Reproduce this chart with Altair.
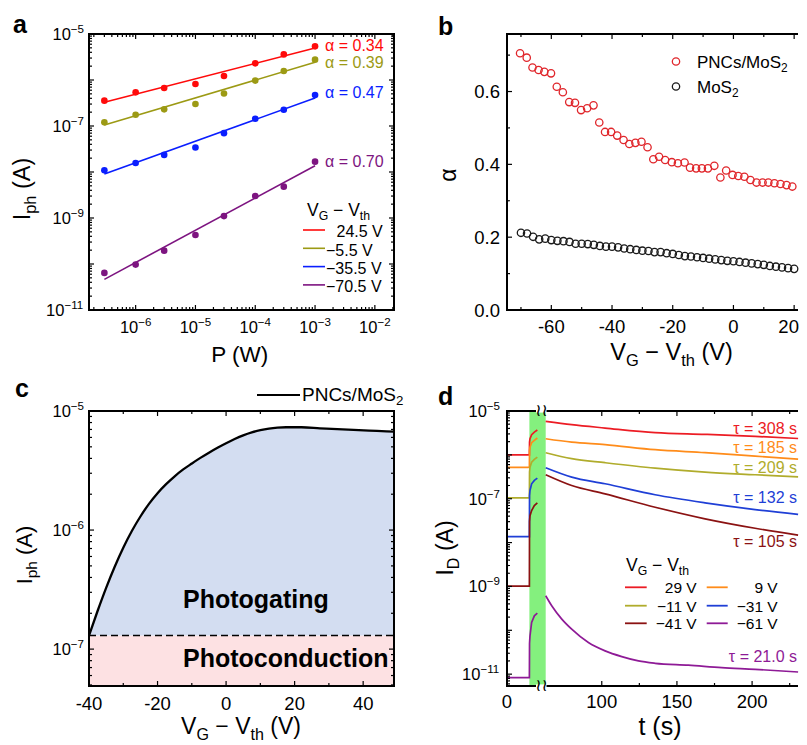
import altair as alt
import pandas as pd

FONT = "Liberation Sans"

# ---------------- (a) Iph vs P ----------------
A_P = [3e-7, 1e-6, 3e-6, 1e-5, 3e-5, 1e-4, 3e-4, 1e-3]
A_I_P245 = [3.56e-7, 5.4e-7, 6.7e-7, 8.2e-7, 1.22e-6, 2.3e-6, 3.6e-6, 5.4e-6]
A_I_M55 = [1.2e-7, 1.76e-7, 2.3e-7, 3.0e-7, 5.1e-7, 9.7e-7, 1.57e-6, 2.77e-6]
A_I_M355 = [1.09e-8, 1.57e-8, 2.35e-8, 3.4e-8, 7.0e-8, 1.44e-7, 2.26e-7, 4.7e-7]
A_I_M705 = [6.4e-11, 9.7e-11, 1.95e-10, 4.27e-10, 1.1e-9, 3.0e-9, 4.8e-9, 1.68e-8]
A_FIT_P = [3e-7, 1e-3]
A_FIT_P245 = [3.27e-7, 4.96e-6]
A_FIT_M55 = [1.05e-7, 2.42e-6]
A_FIT_M355 = [9.06e-9, 4.06e-7]
A_FIT_M705 = [4.64e-11, 1.37e-8]
A_LEGEND = ["24.5 V", "−5.5 V", "−35.5 V", "−70.5 V"]
A_ALPHA = ["α = 0.34", "α = 0.39", "α = 0.47", "α = 0.70"]
A_COLORS = ["#ff0a0a", "#9c9a14", "#0a1eff", "#7d1480"]
A_XTICKS = [1e-6, 1e-5, 1e-4, 1e-3, 1e-2]
A_XEXP = ["−6", "−5", "−4", "−3", "−2"]
A_YTICKS = [1e-11, 1e-10, 1e-9, 1e-8, 1e-7, 1e-6, 1e-5]
A_YLABV = [1e-11, 1e-9, 1e-7, 1e-5]
A_YEXP = ["−11", "−9", "−7", "−5"]

# ---------------- (b) alpha vs VG-Vth ----------------
B_V_PNC = [-70.3, -68.1, -66.2, -64.2, -62.3, -60.1, -58.2, -56.2, -54.1, -52.2, -50.2, -48.2,
           -46.1, -44.2, -42.3, -40.3, -38.3, -36.2, -34.3, -32.3, -30.3, -28.3, -26.4, -24.5,
           -22.5, -20.3, -18.3, -16.1, -14.3, -12.3, -10.4, -8.4, -6.3, -4.3, -2.4, -0.3,
           1.6, 3.6, 5.6, 7.6, 9.6, 11.5, 13.5, 15.5, 17.5, 19.4, 21.4, 23.4]
B_A_PNC = [0.705, 0.693, 0.666, 0.659, 0.654, 0.650, 0.613, 0.598, 0.571, 0.569, 0.549, 0.554,
           0.562, 0.515, 0.489, 0.489, 0.479, 0.467, 0.456, 0.459, 0.462, 0.447, 0.414, 0.421,
           0.412, 0.406, 0.403, 0.405, 0.391, 0.389, 0.389, 0.389, 0.396, 0.364, 0.383, 0.371,
           0.368, 0.366, 0.357, 0.350, 0.350, 0.350, 0.348, 0.346, 0.343, 0.339, 0.341, 0.346]
B_V_MOS = [-70, -68, -66, -64, -62, -60, -58, -56, -54, -52, -50, -48, -46, -44, -42, -40,
           -38, -36, -34, -32, -30, -28, -26, -24, -22, -20, -18, -16, -14, -12, -10, -8,
           -6, -4, -2, 0, 2, 4, 6, 8, 10, 12, 14, 16, 18, 20, 22, 24]
B_A_MOS = [0.212, 0.210, 0.201, 0.194, 0.196, 0.192, 0.190, 0.189, 0.187, 0.182, 0.182, 0.181,
           0.179, 0.176, 0.174, 0.174, 0.172, 0.169, 0.167, 0.165, 0.163, 0.162, 0.159, 0.159,
           0.156, 0.154, 0.151, 0.148, 0.147, 0.145, 0.143, 0.141, 0.139, 0.137, 0.135, 0.134,
           0.132, 0.130, 0.128, 0.126, 0.124, 0.121, 0.119, 0.117, 0.115, 0.113, 0.110, 0.108]
B_XMAJ = [-60, -40, -20, 0, 20]
B_XLAB = ["-60", "-40", "-20", "0", "20"]
B_XMIN = [-70, -50, -30, -10, 10]
B_YMAJ = [0.0, 0.2, 0.4, 0.6]
B_YLAB = ["0.0", "0.2", "0.4", "0.6"]
B_YMIN = [0.1, 0.3, 0.5, 0.7]

# ---------------- (c) Iph vs VG-Vth ----------------
C_V = [-40, -37.5, -35, -32.5, -30, -27.5, -25, -22.5, -20, -17.5, -15, -12.5, -10, -7.5,
       -5, -2.5, 0, 2.5, 5, 7.5, 10, 12.5, 15, 17.5, 22.0, 27.4, 37.2, 44.0, 49.0]
C_I = [1.3e-7, 2.09e-7, 3.27e-7, 4.92e-7, 7.1e-7, 9.82e-7, 1.3e-6, 1.66e-6, 2.04e-6, 2.43e-6,
       2.83e-6, 3.23e-6, 3.62e-6, 4.04e-6, 4.47e-6, 4.91e-6, 5.36e-6, 5.81e-6, 6.24e-6, 6.61e-6,
       6.9e-6, 7.11e-6, 7.24e-6, 7.3e-6, 7.3e-6, 7.16e-6, 6.93e-6, 6.8e-6, 6.71e-6]
C_THRESH = 1.3e-7
C_XMAJ = [-40, -20, 0, 20, 40]
C_XLAB = ["-40", "-20", "0", "20", "40"]
C_XMIN = [-30, -10, 10, 30]
C_YMAJ = [1e-7, 1e-6, 1e-5]
C_YEXP = ["−7", "−6", "−5"]

# ---------------- (d) transient ID vs t ----------------
D_T1 = [0, 14.9, 15.0, 15.3, 16.4, 18.2, 20.2]
D_R1 = [1.0e-6, 1.0e-6, 1.95e-6, 2.33e-6, 2.88e-6, 3.31e-6, 3.68e-6]
D_O1 = [5.2e-7, 5.2e-7, 1.26e-6, 1.5e-6, 1.89e-6, 2.14e-6, 2.42e-6]
D_Y1 = [1.05e-7, 1.05e-7, 4.04e-7, 5.25e-7, 6.82e-7, 7.87e-7, 8.91e-7]
D_B1 = [1.37e-8, 1.37e-8, 1.18e-7, 1.54e-7, 2.19e-7, 2.61e-7, 2.94e-7]
D_K1 = [1.02e-9, 1.02e-9, 3.0e-8, 4.1e-8, 5.37e-8, 7.0e-8, 8.05e-8]
D_P1 = [8.3e-12, 8.3e-12, 5.0e-11, 7.46e-11, 1.51e-10, 2.14e-10, 2.45e-10]
D_T2 = [62.7, 80.0, 102.2, 135.5, 168.7, 202.0, 230.6]
D_R2 = [5.82e-6, 4.88e-6, 4.09e-6, 3.21e-6, 2.93e-6, 2.64e-6, 2.36e-6]
D_O2 = [2.33e-6, 1.95e-6, 1.71e-6, 1.31e-6, 1.12e-6, 9.36e-7, 8.0e-7]
D_Y2 = [1.12e-6, 8.17e-7, 6.62e-7, 4.98e-7, 4.04e-7, 3.52e-7, 3.15e-7]
D_B2 = [5.08e-7, 3.10e-7, 2.19e-7, 1.23e-7, 8.05e-8, 5.66e-8, 4.4e-8]
D_K2 = [3.52e-7, 2.0e-7, 1.29e-7, 6.4e-8, 3.48e-8, 2.12e-8, 1.48e-8]
D_TP2 = [62.7, 66.7, 73.4, 80.0, 91.1, 102.2, 113.3, 124.4, 135.5, 157.6, 179.8, 202.0, 230.6]
D_P2 = [6.12e-10, 3.62e-10, 1.8e-10, 1.06e-10, 5.25e-11, 3.39e-11, 2.51e-11, 2.0e-11,
        1.77e-11, 1.6e-11, 1.41e-11, 1.29e-11, 1.12e-11]
D_LIGHT = [14.9, 62.7]
D_LEGEND = ["29 V", "9 V", "−11 V", "−31 V", "−41 V", "−61 V"]
D_COLORS = ["#ec1c24", "#ff8c1a", "#b0ac2c", "#1f3fd6", "#8b1212", "#8e1a96"]
D_TAU = ["τ = 308 s", "τ = 185 s", "τ = 209 s", "τ = 132 s", "τ = 105 s", "τ = 21.0 s"]
D_XMAJ = [0, 100, 150, 200]
D_XLAB = ["0", "100", "150", "200"]
D_XMIN = [125, 175, 225]
D_YTICKS = [1e-11, 1e-10, 1e-9, 1e-8, 1e-7, 1e-6, 1e-5]
D_YLABV = [1e-11, 1e-9, 1e-7, 1e-5]
D_YEXP = ["−11", "−9", "−7", "−5"]


def minor_log(lo_exp, hi_exp, lo, hi):
    out = []
    for e in range(lo_exp, hi_exp + 1):
        for k in range(2, 10):
            v = k * 10.0 ** e
            if lo < v < hi:
                out.append(v)
    return out


# ---------------- text helpers ----------------
WREG = {' ': 278, '(': 333, ')': 333, '-': 333, '−': 584, '.': 278, '/': 278, '=': 584,
        'A': 667, 'C': 722, 'D': 722, 'G': 778, 'I': 278, 'M': 833, 'N': 722, 'P': 667,
        'S': 667, 'V': 667, 'W': 944, 'a': 556, 'c': 500, 'h': 556, 'o': 556, 'p': 556,
        's': 500, 't': 278, 'α': 578, 'τ': 430}
for _d in "0123456789":
    WREG[_d] = 556


def tw(s, size):
    return sum(WREG.get(ch, 556) for ch in s) * size / 1000.0


def txt(text, x, y, size, color="black", align="left", angle=0, bold=False, font=FONT,
        dx=0.0, dy=0.0, baseline="alphabetic"):
    props = dict(text=text, font=font, fontSize=size, color=color, align=align,
                 baseline=baseline, angle=angle, fontWeight="bold" if bold else "normal")
    enc = {}
    row = 0.0
    if isinstance(x, tuple):
        row = x[0]
        enc["x"] = alt.X("v:Q", scale=x[1], axis=None)
        props["dx"] = dx
    else:
        enc["x"] = alt.value(x + dx)
    if isinstance(y, tuple):
        row = y[0]
        enc["y"] = alt.Y("v:Q", scale=y[1], axis=None)
        props["dy"] = dy
    else:
        enc["y"] = alt.value(y + dy)
    return alt.Chart(pd.DataFrame({"v": [row]})).mark_text(**props).encode(**enc)


def rich(segs, x, y, size, align="left", angle=0, color="black", ratio=0.7, dy0=0.0):
    sizes = [size if m == "n" else size * ratio for _, m in segs]
    widths = [tw(t, s) for (t, _), s in zip(segs, sizes)]
    total = sum(widths)
    off = {"left": 0.0, "center": -total / 2, "right": -total}[align]
    out = []
    for (t, m), s, w in zip(segs, sizes, widths):
        lead = len(t) - len(t.lstrip(" "))
        o = off + tw(" " * lead, s)
        shift = 0.0 if m == "n" else (0.24 * size if m == "sub" else -0.42 * size)
        if angle == 0:
            ddx, ddy = o, shift + dy0
        else:
            ddx, ddy = shift + dy0, -o
        out.append(txt(t.strip(" "), x, y, s, color=color, angle=angle, dx=ddx, dy=ddy))
        off += w
    return out


ONE = pd.DataFrame({"k": [0]})


def hline(x, x2, y, color="black", sw=2.0, cap="butt", dash=None):
    kw = dict(color=color, strokeWidth=sw, strokeCap=cap)
    if dash:
        kw["strokeDash"] = dash
    return alt.Chart(ONE).mark_rule(**kw).encode(x=alt.value(x), x2=alt.value(x2), y=alt.value(y))


def vline(x, y, y2, color="black", sw=2.0, cap="square"):
    return alt.Chart(ONE).mark_rule(color=color, strokeWidth=sw, strokeCap=cap).encode(
        x=alt.value(x), y=alt.value(y), y2=alt.value(y2))


def frame(W, H, right=True):
    if right:
        return [hline(0, W, 0), hline(0, W, H), vline(0, 0, H), vline(W, 0, H)]
    # open right side: stop the horizontal lines 1 px short so nothing pokes past the page
    return [hline(0, W - 1, 0), hline(0, W - 1, H), vline(0, 0, H)]


def xticks(vals, sc, H, L, sw=1.2):
    df = pd.DataFrame({"v": vals})
    xe = alt.X("v:Q", scale=sc, axis=None)
    return [alt.Chart(df).mark_rule(color="black", strokeWidth=sw).encode(x=xe, y=alt.value(H), y2=alt.value(H - L)),
            alt.Chart(df).mark_rule(color="black", strokeWidth=sw).encode(x=xe, y=alt.value(0), y2=alt.value(L))]


def yticks(vals, sc, W, L, sw=1.2, right=True, rlen=None):
    df = pd.DataFrame({"v": vals})
    ye = alt.Y("v:Q", scale=sc, axis=None)
    out = [alt.Chart(df).mark_rule(color="black", strokeWidth=sw).encode(y=ye, x=alt.value(0), x2=alt.value(L))]
    if right:
        rl = L if rlen is None else rlen
        out.append(alt.Chart(df).mark_rule(color="black", strokeWidth=sw).encode(y=ye, x=alt.value(W), x2=alt.value(W - rl)))
    return out


# =============== panel (a) ===============
AW, AH = 305, 276
ax = alt.Scale(type="log", domain=[1.66e-7, 2.09e-2], nice=False)
ay = alt.Scale(type="log", domain=[1e-11, 1e-5], nice=False)
la = []
# white 1px anchor that fixes the top-left corner of the whole figure
la.append(alt.Chart(ONE).mark_rect(color="white", opacity=1).encode(
    x=alt.value(-81), x2=alt.value(-80), y=alt.value(-26), y2=alt.value(-25)))
for vals, fit, col in zip([A_I_P245, A_I_M55, A_I_M355, A_I_M705],
                          [A_FIT_P245, A_FIT_M55, A_FIT_M355, A_FIT_M705], A_COLORS):
    la.append(alt.Chart(pd.DataFrame({"P": A_FIT_P, "I": fit})).mark_line(color=col, strokeWidth=1.6).encode(
        x=alt.X("P:Q", scale=ax, axis=None), y=alt.Y("I:Q", scale=ay, axis=None)))
    la.append(alt.Chart(pd.DataFrame({"P": A_P, "I": vals})).mark_circle(color=col, size=44, opacity=1).encode(
        x=alt.X("P:Q", scale=ax, axis=None), y=alt.Y("I:Q", scale=ay, axis=None)))
la += frame(AW, AH)
la += xticks(A_XTICKS, ax, AH, 5)
la += xticks(minor_log(-7, -2, 1.66e-7, 2.09e-2), ax, AH, 3)
la += yticks(A_YTICKS, ay, AW, 5)
la += yticks(minor_log(-11, -6, 1e-11, 1e-5), ay, AW, 3)
for v, e in zip(A_XTICKS, A_XEXP):
    la += rich([("10", "n"), (e, "sup")], (v, ax), 299, 16.5, align="center")
for v, e in zip(A_YLABV, A_YEXP):
    la += rich([("10", "n"), (e, "sup")], -5, (v, ay), 16.5, align="right", dy0=5.9)
for lab, col, yb in zip(A_ALPHA, A_COLORS, [17, 34, 64, 133]):
    la.append(txt(lab, 236, yb, 16, color=col))
la += rich([("V", "n"), ("G", "sub"), (" − V", "n"), ("th", "sub")], 218, 182, 17.5)
for i, (lab, col) in enumerate(zip(A_LEGEND, A_COLORS)):
    yl = 196 + 18.3 * i
    la.append(hline(214, 236, yl, color=col, sw=1.6))
    la.append(txt(lab, 247.5 if i == 0 else 237, yl + 7.3, 16))
la += rich([("I", "n"), ("ph", "sub"), (" (A)", "n")], -59, 155, 23.5, align="center", angle=270)
la += rich([("P (W)", "n")], 151, 328, 22.5, align="center")
la.append(txt("a", -76, -1, 25, bold=True))
panel_a = alt.layer(*la).properties(width=AW, height=AH)

# =============== panel (b) ===============
# the page leaves 791 px for the figure, so the right panels stop at x = 799
BW, BH = 292, 276
BVMAX = 21.6
bx = alt.Scale(domain=[-74.6, BVMAX], nice=False, zero=False)
by = alt.Scale(domain=[0, 0.758], nice=False, zero=False)
lb = []
lb.append(alt.Chart(pd.DataFrame({"V": B_V_MOS, "a": B_A_MOS})).transform_filter(
    "datum.V <= 20.2").mark_point(
    shape="circle", filled=False, size=54, strokeWidth=1.3, color="#1a1a1a", clip=True, opacity=1).encode(
    x=alt.X("V:Q", scale=bx, axis=None), y=alt.Y("a:Q", scale=by, axis=None)))
lb.append(alt.Chart(pd.DataFrame({"V": B_V_PNC, "a": B_A_PNC})).transform_filter(
    "datum.V <= 20.2").mark_point(
    shape="circle", filled=False, size=54, strokeWidth=1.3, color="#e0262b", clip=True, opacity=1).encode(
    x=alt.X("V:Q", scale=bx, axis=None), y=alt.Y("a:Q", scale=by, axis=None)))
lb += frame(BW, BH, right=False)
lb += xticks(B_XMAJ, bx, BH, 5)
lb += xticks(B_XMIN, bx, BH, 3)
lb += yticks(B_YMAJ, by, BW, 5, right=False)
lb += yticks(B_YMIN, by, BW, 3, right=False)
for v, s in zip(B_XMAJ, B_XLAB):
    # the last label sits at the page edge: nudge it left so it stays on the page
    lb.append(txt(s, (v, bx), 299, 18.5, align="center", dx=-5.5 if v == 20 else 0.0))
for v, s in zip(B_YMAJ, B_YLAB):
    lb.append(txt(s, -7, (v, by), 18.5, align="right", dy=6.6))
lb.append(alt.Chart(ONE).mark_point(shape="circle", filled=False, size=54, strokeWidth=1.3,
                                    color="#e0262b", opacity=1).encode(x=alt.value(169), y=alt.value(27.5)))
lb.append(alt.Chart(ONE).mark_point(shape="circle", filled=False, size=54, strokeWidth=1.3,
                                    color="#1a1a1a", opacity=1).encode(x=alt.value(169), y=alt.value(52.5)))
lb += rich([("PNCs/MoS", "n"), ("2", "sub")], 190, 34, 17)
lb += rich([("MoS", "n"), ("2", "sub")], 190, 59, 17)
lb += rich([("α", "n")], -51, 141, 23, align="center", angle=270)
lb += rich([("V", "n"), ("G", "sub"), (" − V", "n"), ("th", "sub"), (" (V)", "n")], 164.5, 326, 23.5, align="center")
lb.append(txt("b", -69, 1, 25, bold=True))
panel_b = alt.layer(*lb).properties(width=BW, height=BH)

# =============== panel (c) ===============
CW, CH = 305, 275
cx = alt.Scale(domain=[-40, 49], nice=False, zero=False)
cy = alt.Scale(type="log", domain=[4.9e-8, 1e-5], nice=False)
lc = []
thr = pd.DataFrame({"v": [C_THRESH]})
lc.append(alt.Chart(thr).mark_rect(color="#fde1e3").encode(
    y=alt.Y("v:Q", scale=cy, axis=None), y2=alt.value(CH), x=alt.value(0), x2=alt.value(CW)))
cdf = pd.DataFrame({"V": C_V, "I": C_I, "base": [C_THRESH] * len(C_V)})
lc.append(alt.Chart(cdf).mark_area(color="#d3ddf1", interpolate="monotone", opacity=1).encode(
    x=alt.X("V:Q", scale=cx, axis=None), y=alt.Y("I:Q", scale=cy, axis=None), y2="base:Q"))
lc.append(alt.Chart(thr).mark_rule(color="black", strokeWidth=1.6, strokeDash=[7, 4]).encode(
    y=alt.Y("v:Q", scale=cy, axis=None), x=alt.value(0), x2=alt.value(CW)))
lc.append(alt.Chart(cdf).mark_line(color="black", strokeWidth=2.3, interpolate="monotone").encode(
    x=alt.X("V:Q", scale=cx, axis=None), y=alt.Y("I:Q", scale=cy, axis=None)))
lc += frame(CW, CH)
lc += xticks(C_XMAJ, cx, CH, 5)
lc += xticks(C_XMIN, cx, CH, 3)
lc += yticks(C_YMAJ, cy, CW, 5)
lc += yticks(minor_log(-8, -6, 4.9e-8, 1e-5), cy, CW, 3)
for v, s in zip(C_XMAJ, C_XLAB):
    lc.append(txt(s, (v, cx), 299, 18.5, align="center"))
for v, e in zip(C_YMAJ, C_YEXP):
    lc += rich([("10", "n"), (e, "sup")], -5, (v, cy), 16.5, align="right", dy0=5.9)
lc.append(txt("Photogating", 94, 197, 25, bold=True))
lc.append(txt("Photoconduction", 94, 256, 25, bold=True))
lc.append(hline(168, 211, -16, sw=2.2))
lc += rich([("PNCs/MoS", "n"), ("2", "sub")], 213, -10.3, 19)
lc += rich([("I", "n"), ("ph", "sub"), (" (A)", "n")], -57, 144, 22, align="center", angle=270)
lc += rich([("V", "n"), ("G", "sub"), (" − V", "n"), ("th", "sub"), (" (V)", "n")], 152, 323, 23, align="center")
lc.append(txt("c", -74, -14, 25, bold=True))
panel_c = alt.layer(*lc).properties(width=CW, height=CH)

# =============== panel (d) ===============
DW, DH = 292, 275
dxs = alt.Scale(domain=[0, 20.5, 62.7, 231.2], range=[0, 30.8, 38.7, 292], nice=False, zero=False)
dys = alt.Scale(type="log", domain=[5.37e-12, 1e-5], nice=False)
ld = []
ld.append(alt.Chart(pd.DataFrame({"a": [D_LIGHT[0]], "b": [D_LIGHT[1]]})).mark_rect(color="#84f07e").encode(
    x=alt.X("a:Q", scale=dxs, axis=None), x2="b:Q", y=alt.value(0), y2=alt.value(DH)))
seg1 = [D_R1, D_O1, D_Y1, D_B1, D_K1, D_P1]
seg2 = [D_R2, D_O2, D_Y2, D_B2, D_K2, D_P2]
for i, (s1, s2, col) in enumerate(zip(seg1, seg2, D_COLORS)):
    t2 = D_TP2 if i == 5 else D_T2
    ld.append(alt.Chart(pd.DataFrame({"t": D_T1, "I": s1})).mark_line(color=col, strokeWidth=1.7, clip=True).encode(
        x=alt.X("t:Q", scale=dxs, axis=None), y=alt.Y("I:Q", scale=dys, axis=None)))
    ld.append(alt.Chart(pd.DataFrame({"t": t2, "I": s2})).mark_line(
        color=col, strokeWidth=1.7, clip=True, interpolate="monotone").encode(
        x=alt.X("t:Q", scale=dxs, axis=None), y=alt.Y("I:Q", scale=dys, axis=None)))
ld += frame(DW, DH, right=False)
ld += xticks(D_XMAJ, dxs, DH, 5)
ld += xticks(D_XMIN, dxs, DH, 3)
ld += yticks(D_YTICKS, dys, DW, 5, right=False)
ld += yticks(minor_log(-12, -6, 5.37e-12, 1e-5), dys, DW, 3, right=False)
# axis break marks
for yb in [0, DH]:
    ld.append(alt.Chart(ONE).mark_rect(color="white").encode(
        x=alt.value(29), x2=alt.value(39.5), y=alt.value(yb - 1.6), y2=alt.value(yb + 1.6)))
    ld.append(txt("≀≀", 34.5, yb, 17, font="DejaVu Sans", align="center", baseline="middle"))
for v, s in zip(D_XMAJ, D_XLAB):
    ld.append(txt(s, (v, dxs), 297, 18.5, align="center"))
for v, e in zip(D_YLABV, D_YEXP):
    ld += rich([("10", "n"), (e, "sup")], -7, (v, dys), 16.5, align="right", dy0=5.9)
for lab, col, yb in zip(D_TAU, D_COLORS, [23.3, 42.3, 61.7, 92.3, 135.7, 250.7]):
    ld.append(txt(lab, 290, yb, 16, color=col, align="right"))
ld += rich([("V", "n"), ("G", "sub"), (" − V", "n"), ("th", "sub")], 119, 159.7, 17.5)
for i, (lab, col) in enumerate(zip(D_LEGEND, D_COLORS)):
    r, c = i // 2, i % 2
    yl = [176.3, 194.7, 212.3][r]
    x0, x1, xt = [(118, 139.7, 189.7), (199.7, 220.7, 270.7)][c]
    ld.append(hline(x0, x1, yl, color=col, sw=1.8))
    ld.append(txt(lab, xt, yl + 6, 15.5, align="right"))
ld += rich([("I", "n"), ("D", "sub"), (" (A)", "n")], -54, 137, 23, align="center", angle=270)
ld += rich([("t (s)", "n")], 153, 324, 25, align="center")
ld.append(txt("d", -69, -6, 25, bold=True))
panel_d = alt.layer(*ld).properties(width=DW, height=DH)

chart = alt.concat(panel_a, panel_b, panel_c, panel_d, columns=2,
                   spacing={"row": 101, "column": 113}, bounds="flush").properties(
    padding=0).configure_view(stroke=None)

chart.save("out.html", embed_options={"renderer": "svg", "actions": False})
